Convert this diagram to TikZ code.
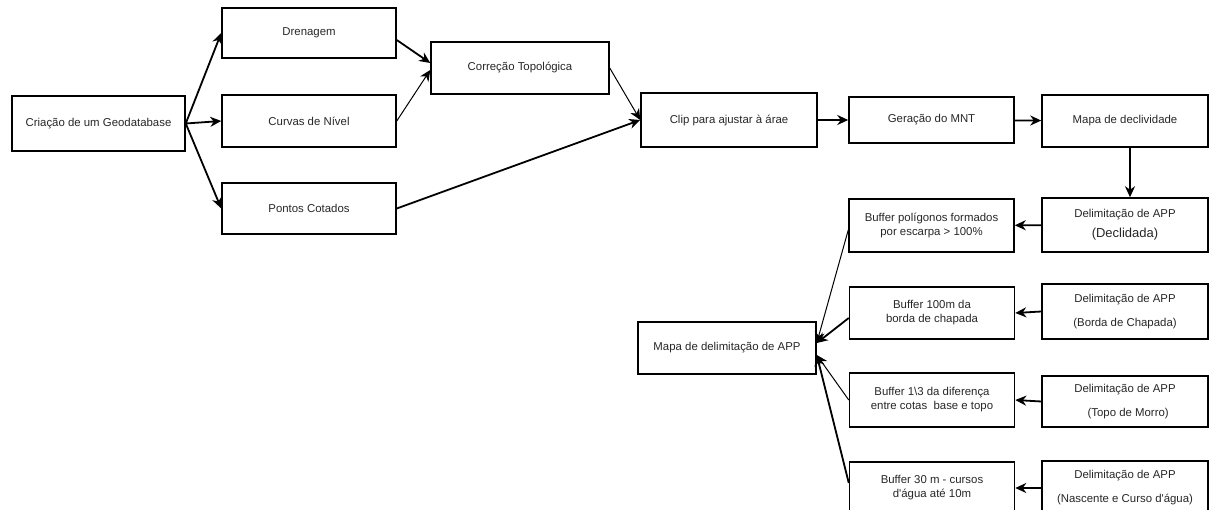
\documentclass[tikz,border=0pt]{standalone}
\usepackage{fontspec}
\setmainfont{Liberation Sans}
\usetikzlibrary{arrows.meta}

\begin{document}
\begin{tikzpicture}[x=1pt,y=-1pt,>={Stealth[length=11pt,width=10pt,inset=3.5pt]},
    box/.style={draw,line width=1.5pt,inner sep=2pt,align=center,text=black!85,
      font=\fontsize{11.4}{14}\selectfont},
    flow/.style={->,line width=1.8pt},
    thinflow/.style={->,line width=1pt}]
    \useasboundingbox (0,0) rectangle (1210,510);
    \clip (0,0) rectangle (1210,510);
    % left part
    \node[box,minimum width=173pt,minimum height=55pt] (geo)  at (98.5,123.5) {Criação de um Geodatabase} ;
    \node[box,minimum width=174pt,minimum height=50pt] (dren) at (309,33)    {Drenagem} ;
    \node[box,minimum width=174pt,minimum height=52pt] (curv) at (309,121)   {Curvas de Nível} ;
    \node[box,minimum width=174pt,minimum height=51pt] (pont) at (309,208.5) {Pontos Cotados} ;
    \node[box,minimum width=178pt,minimum height=52pt] (topo) at (520,68)    {Correção Topológica} ;
    \node[box,minimum width=176pt,minimum height=54pt] (clip) at (729,120)   {Clip para ajustar à árae} ;
    \node[box,minimum width=165pt,minimum height=46pt] (mnt)  at (931.5,120) {Geração do MNT} ;
    \node[box,minimum width=166pt,minimum height=52pt] (decl) at (1125,121)  {Mapa de declividade} ;
    % right part
    \node[box,minimum width=166pt,minimum height=54pt] (d1) at (1125,225)   {Delimitação de APP\\[6pt]{\fontsize{13}{16}\selectfont(Declidada)}} ;
    \node[box,minimum width=166pt,minimum height=55pt] (d2) at (1125,311.5) {Delimitação de APP\\[10pt](Borda de Chapada)} ;
    \node[box,minimum width=166pt,minimum height=51pt] (d3) at (1125,401.5) {Delimitação de APP\\[10pt]\ \ (Topo de Morro)} ;
    \node[box,minimum width=166pt,minimum height=54pt] (d4) at (1125,488)   {Delimitação de APP\\[10pt](Nascente e Curso d\textquotesingle água)} ;
    \node[box,minimum width=165pt,minimum height=53pt] (b1) at (931.5,225.5) {Buffer polígonos formados\\por escarpa > 100\%} ;
    \node[box,minimum width=165pt,minimum height=52pt] (b2) at (932,313)    {Buffer 100m da\\borda de chapada} ;
    \node[box,minimum width=165pt,minimum height=54pt] (b3) at (932,400)    {Buffer 1\textbackslash 3 da diferença\\entre cotas\ \ base e topo} ;
    \node[box,minimum width=165pt,minimum height=52pt] (b4) at (932,488)    {Buffer 30 m - cursos\\d\textquotesingle água até 10m} ;
    \node[box,minimum width=178pt,minimum height=52pt] (app) at (727,348)   {Mapa de delimitação de APP} ;
    % connectors
    \draw[flow] (geo.east) -- (dren.west) ;
    \draw[flow] (geo.east) -- (curv.west) ;
    \draw[flow] (geo.east) -- (pont.west) ;
    \draw[flow] ([yshift=-7pt]dren.east) -- ([yshift=5pt]topo.west) ;
    \draw[thinflow] (curv.east) -- ([yshift=-2pt]topo.west) ;
    \draw[thinflow] (topo.east) -- (clip.west) ;
    \draw[flow] (pont.east) -- (clip.west) ;
    \draw[flow] (clip) -- (mnt) ;
    \draw[flow] (mnt) -- (decl) ;
    \draw[flow] ([xshift=5pt]decl.south) -- ([xshift=5pt]d1.north) ;
    \draw[flow] (d1) -- (b1) ;
    \draw[flow] (d2.west) -- (b2.east) ;
    \draw[flow] (d3.west) -- (b3.east) ;
    \draw[flow] (d4) -- (b4) ;
    \draw[thinflow] ([yshift=-4.5pt]b1.west) -- ([yshift=5pt]app.east) ;
    \draw[flow] ([yshift=-5pt]b2.west) -- ([yshift=5pt]app.east) ;
    \draw[thinflow] (b3.west) -- ([yshift=-7pt]app.east) ;
    \draw[flow] ([yshift=5pt]b4.west) -- ([yshift=-7pt]app.east) ;
  \end{tikzpicture}
\end{document}
